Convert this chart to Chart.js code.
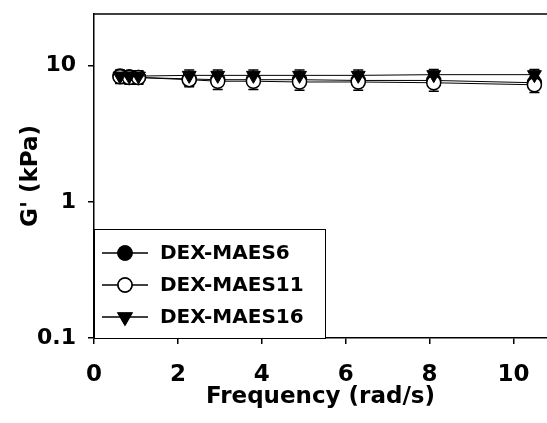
<!DOCTYPE html>
<html>
<head>
<meta charset="utf-8">
<script src="https://cdn.jsdelivr.net/npm/chart.js@4.4.1/dist/chart.umd.min.js"></script>
<style>
  html, body { margin: 0; padding: 0; background: #fff; }
  #wrap { width: 547px; height: 423px; }
</style>
</head>
<body>
<div id="wrap"><canvas id="gChart" width="547" height="423"></canvas></div>
<script>
// du lieu doc tu hinh
const frequency = [0.62, 0.84, 1.06, 2.27, 2.95, 3.8, 4.9, 6.3, 8.1, 10.5];
const maes6 = [8.4, 8.3, 8.2, 8.0, 7.9, 7.9, 7.9, 7.8, 7.8, 7.5];
const maes6Err = [0.9, 0.9, 0.8, 0.8, 0.8, 0.8, 0.8, 0.8, 0.8, 0.8];
const maes11 = [8.3, 8.2, 8.2, 7.9, 7.7, 7.7, 7.6, 7.6, 7.5, 7.25];
const maes11Err = [0.9, 0.9, 0.9, 0.9, 1.0, 1.0, 1.0, 1.0, 1.0, 0.9];
const maes16 = [8.4, 8.4, 8.4, 8.5, 8.5, 8.5, 8.5, 8.5, 8.6, 8.6];
const maes16Err = [0.8, 0.8, 0.8, 0.8, 0.8, 0.8, 0.8, 0.8, 0.8, 0.8];
const xTicks = [0, 2, 4, 6, 8, 10];
const yTicks = [0.1, 1, 10];

const FONT = '"DejaVu Sans", sans-serif';

function toPoints(ys) {
    return frequency.map((x, i) => ({ x: x, y: ys[i] }));
}

// thanh sai so
const errorBars = {
    id: 'errorBars',
    beforeDatasetsDraw(chart) {
        const ctx = chart.ctx;
        const y = chart.scales.y;
        chart.data.datasets.forEach((ds, di) => {
            const meta = chart.getDatasetMeta(di);
            ctx.save();
            ctx.strokeStyle = '#000';
            ctx.lineWidth = 1.5;
            meta.data.forEach((pt, i) => {
                const v = ds.data[i].y, e = ds.errors[i];
                const yTop = y.getPixelForValue(v + e);
                const yBot = y.getPixelForValue(v - e);
                ctx.beginPath();
                ctx.moveTo(pt.x, yTop); ctx.lineTo(pt.x, yBot);
                ctx.moveTo(pt.x - 5, yTop); ctx.lineTo(pt.x + 5, yTop);
                ctx.moveTo(pt.x - 5, yBot); ctx.lineTo(pt.x + 5, yBot);
                ctx.stroke();
            });
            ctx.restore();
        });
    }
};

// khung tren + chu thich
const frameAndLegend = {
    id: 'frameAndLegend',
    afterDraw(chart) {
        const ctx = chart.ctx;
        const a = chart.chartArea;
        ctx.save();
        ctx.strokeStyle = '#000';
        ctx.lineWidth = 1.5;
        ctx.beginPath();
        ctx.moveTo(a.left, a.top);
        ctx.lineTo(a.right, a.top);
        ctx.stroke();

        // hop chu thich
        const boxL = a.left, boxT = 229, boxR = 325, boxB = a.bottom;
        ctx.fillStyle = '#fff';
        ctx.fillRect(boxL, boxT, boxR - boxL, boxB - boxT);
        ctx.lineWidth = 1;
        ctx.strokeRect(boxL + 0.5, boxT + 0.5, boxR - boxL, boxB - boxT);

        const rows = [253, 285, 317];
        chart.data.datasets.forEach((ds, i) => {
            const yy = rows[i];
            ctx.beginPath();
            ctx.lineWidth = 1.5;
            ctx.strokeStyle = '#000';
            ctx.moveTo(102, yy); ctx.lineTo(148, yy);
            ctx.stroke();
            Chart.helpers.drawPoint(ctx, {
                pointStyle: ds.pointStyle,
                radius: ds.pointRadius,
                rotation: ds.pointRotation || 0,
                borderWidth: ds.pointBorderWidth
            }, 125, yy);
            ctx.fillStyle = ds.pointBackgroundColor;
            ctx.strokeStyle = '#000';
            ctx.lineWidth = ds.pointBorderWidth;
            ctx.fill();
            ctx.stroke();
            ctx.fillStyle = '#000';
            ctx.font = 'bold 20px ' + FONT;
            ctx.textBaseline = 'middle';
            ctx.textAlign = 'left';
            ctx.fillText(ds.label, 160, yy + 1);
        });
        ctx.restore();
    }
};

const ctxG = document.getElementById('gChart').getContext('2d');
const gChart = new Chart(ctxG, {
    type: 'line',
    data: {
        datasets: [{
            label: 'DEX-MAES6',
            data: toPoints(maes6),
            errors: maes6Err,
            borderColor: '#000',
            borderWidth: 1,
            pointStyle: 'circle',
            pointRadius: 7,
            pointBackgroundColor: '#000',
            pointBorderColor: '#000',
            pointBorderWidth: 1.5,
            order: 2
        }, {
            label: 'DEX-MAES11',
            data: toPoints(maes11),
            errors: maes11Err,
            borderColor: '#000',
            borderWidth: 1,
            pointStyle: 'circle',
            pointRadius: 7,
            pointBackgroundColor: '#fff',
            pointBorderColor: '#000',
            pointBorderWidth: 1.5,
            order: 1
        }, {
            label: 'DEX-MAES16',
            data: toPoints(maes16),
            errors: maes16Err,
            borderColor: '#000',
            borderWidth: 1,
            pointStyle: 'triangle',
            pointRotation: 180,
            pointRadius: 8,
            pointBackgroundColor: '#000',
            pointBorderColor: '#000',
            pointBorderWidth: 1,
            order: 0
        }]
    },
    options: {
        responsive: false,
        animation: false,
        layout: { autoPadding: false, padding: { top: 14, right: 0, left: 0, bottom: 0 } },
        plugins: {
            legend: { display: false },
            tooltip: { enabled: false }
        },
        scales: {
            x: {
                type: 'linear',
                min: 0,
                max: 10.8,
                afterBuildTicks: (s) => { s.ticks = xTicks.map(v => ({ value: v })); },
                afterFit: (s) => { s.height = 85; s.paddingLeft = 0; s.paddingRight = 0; },
                border: { color: '#000', width: 1.5 },
                grid: { drawOnChartArea: false, color: '#000', tickLength: 6, lineWidth: 1.5 },
                ticks: {
                    color: '#000',
                    padding: 17,
                    maxRotation: 0,
                    font: { family: FONT, size: 23, weight: 'bold' }
                },
                title: {
                    display: true,
                    text: 'Frequency (rad/s)',
                    color: '#000',
                    padding: { top: 0, bottom: 12 },
                    font: { family: FONT, size: 23, weight: 'bold' }
                }
            },
            y: {
                type: 'logarithmic',
                min: 0.1,
                max: 24,
                afterBuildTicks: (s) => { s.ticks = yTicks.map(v => ({ value: v })); },
                afterFit: (s) => { s.width = 94; s.paddingTop = 0; s.paddingBottom = 0; },
                border: { color: '#000', width: 1.5 },
                grid: { drawOnChartArea: false, color: '#000', tickLength: 6, lineWidth: 1.5 },
                ticks: {
                    color: '#000',
                    padding: 12,
                    callback: (v) => String(v),
                    font: { family: FONT, size: 22, weight: 'bold' }
                },
                title: {
                    display: true,
                    text: "G' (kPa)",
                    color: '#000',
                    padding: { top: 17, bottom: 0 },
                    font: { family: FONT, size: 23, weight: 'bold' }
                }
            }
        }
    },
    plugins: [errorBars, frameAndLegend]
});
</script>
</body>
</html>
